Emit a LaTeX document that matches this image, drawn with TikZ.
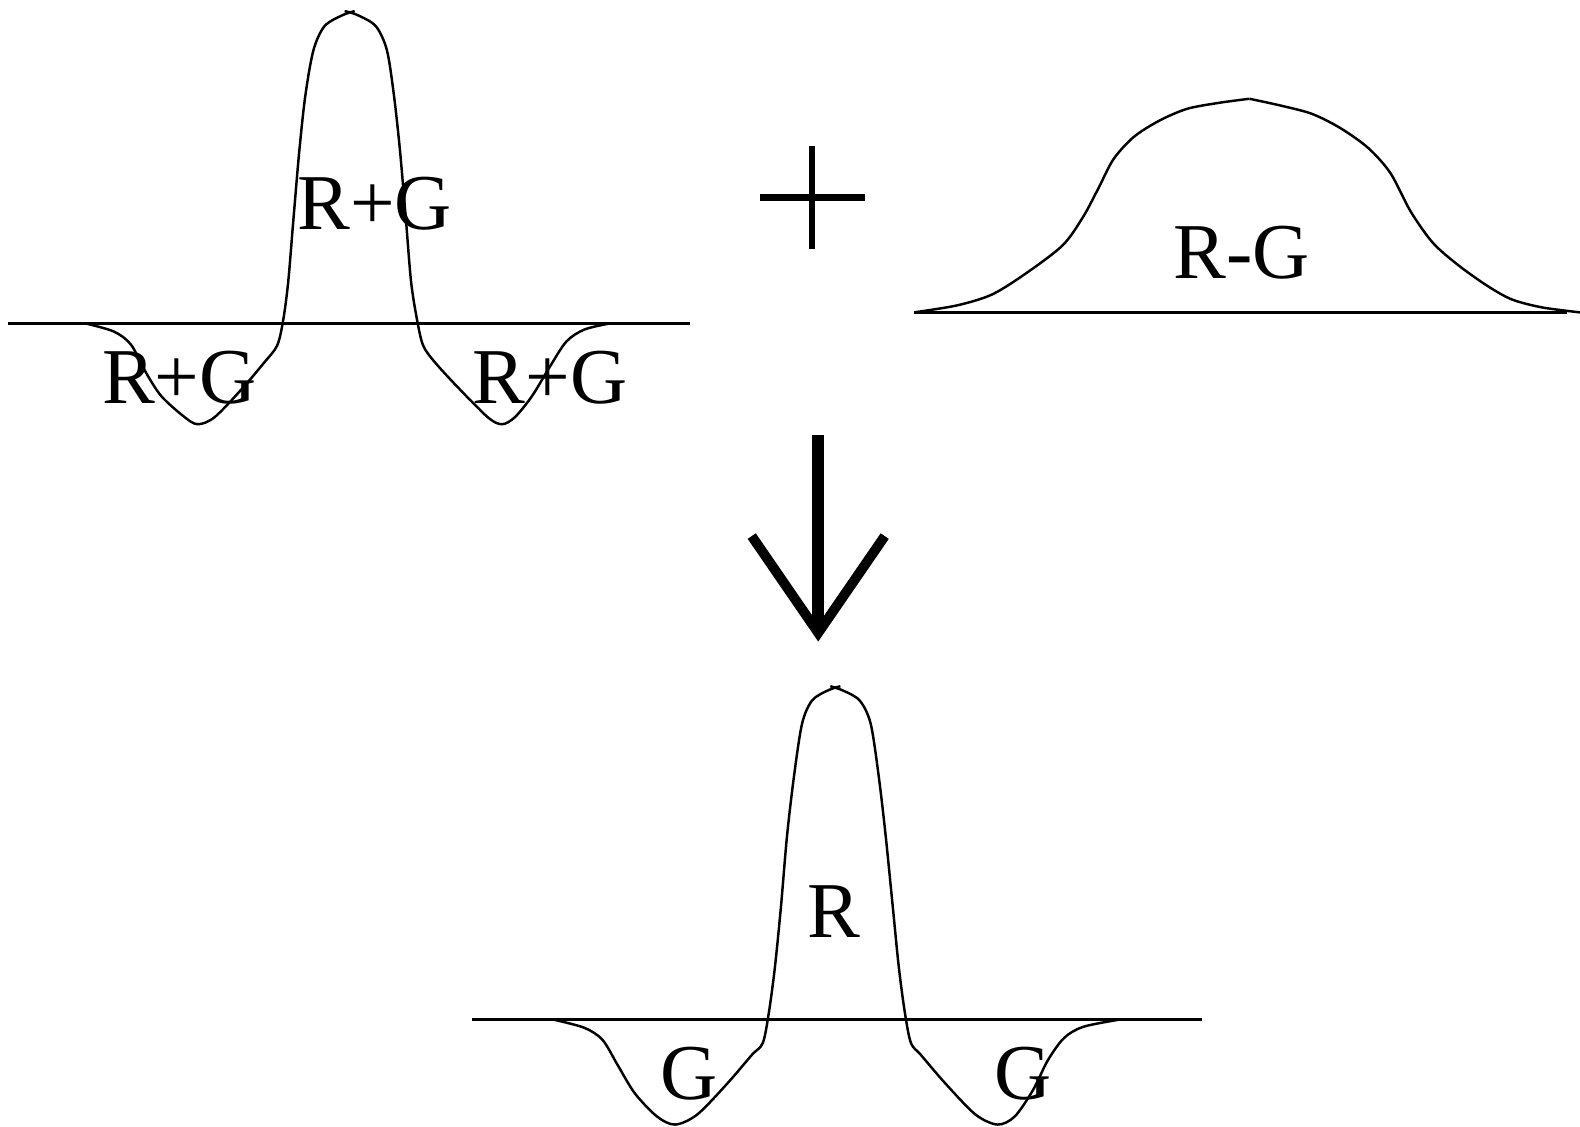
\documentclass[tikz,border=0pt]{standalone}
\usepackage{fontspec}
\setmainfont{Liberation Serif}
\begin{document}
\begin{tikzpicture}[x=0.010077cm,y=-0.010077cm,
  curve/.style={line width=0.7pt,line join=round},
  axis/.style={line width=0.8pt},
  lbl/.style={anchor=base,inner sep=0pt,font=\fontsize{22.5}{26}\selectfont},
  bold/.style={line width=1.75pt},
  arrowline/.style={line width=2.8pt}]
\useasboundingbox (0,0) rectangle (1568,1118.4);
% ---------- top-left: R+G profile ----------
\draw[axis] (8,321) -- (685,321);
\draw[curve] plot[smooth,tension=0.5] coordinates {(352,11) (340,15) (322,26) (311,50) (303,95) (297,150) (291,220) (286,280) (281,318) (275,343) (262,360) (240,386) (213,414) (196,421) (182,413) (160,393) (145,370) (130,342) (113,329) (85,321)};
\draw[curve] plot[smooth,tension=0.5] coordinates {(342,11) (355,15) (373,26) (384,50) (391,95) (397,150) (403,220) (408,280) (414,318) (420,343) (432,360) (455,385) (484,414) (498,421) (511,414) (528,393) (545,365) (562,339) (580,327) (605,321)};
\node[lbl] (lt) at (372,228) {R+G};
\node[lbl] (ll) at (178,400) {R+G};
\node[lbl] (lr) at (546,400) {R+G};
% ---------- plus sign ----------
\draw[bold] (754,196) -- (858,196);
\draw[bold] (806,145) -- (806,247);
% ---------- top-right: R-G profile ----------
\draw[axis] (907,310) -- (1555,310);
\draw[curve] plot[smooth,tension=0.5] coordinates {(907,310) (950,303) (985,292) (1020,270) (1055,243) (1075,215) (1090,187) (1105,158) (1125,136) (1150,120) (1178,108) (1210,102) (1240,98)};
\draw[curve] plot[smooth,tension=0.5] coordinates {(1240,98) (1272,105) (1302,113) (1330,127) (1358,147) (1380,172) (1400,210) (1422,241) (1447,263) (1475,283) (1500,297) (1530,305) (1568,310)};
\node[lbl] (rg) at (1232,276) {R-G};
% ---------- arrow ----------
\draw[line width=3.4pt] (812,432) -- (812,625);
\draw[arrowline,line join=miter] (746,532) -- (812,628) -- (878,532);
% ---------- bottom: R centre, G surround ----------
\draw[axis] (468,1012) -- (1193,1012);
\draw[curve] plot[smooth,tension=0.5] coordinates {(834,681) (822,685) (806,695) (796,718) (788,770) (781,830) (775,900) (769,960) (763,1005) (757,1035) (746,1047) (722,1075) (692,1106) (670,1116) (652,1108) (630,1085) (613,1057) (598,1032) (580,1020) (550,1012)};
\draw[curve] plot[smooth,tension=0.5] coordinates {(824,681) (836,685) (853,695) (864,718) (872,770) (879,830) (886,900) (892,960) (898,1005) (904,1035) (914,1047) (938,1075) (968,1106) (990,1116) (1007,1108) (1025,1082) (1040,1052) (1056,1030) (1075,1019) (1110,1012)};
\node[lbl] (r) at (828,930) {R};
\node[lbl] (gl) at (684,1091) {G};
\node[lbl] (gr) at (1015,1091) {G};
\end{tikzpicture}
\end{document}
